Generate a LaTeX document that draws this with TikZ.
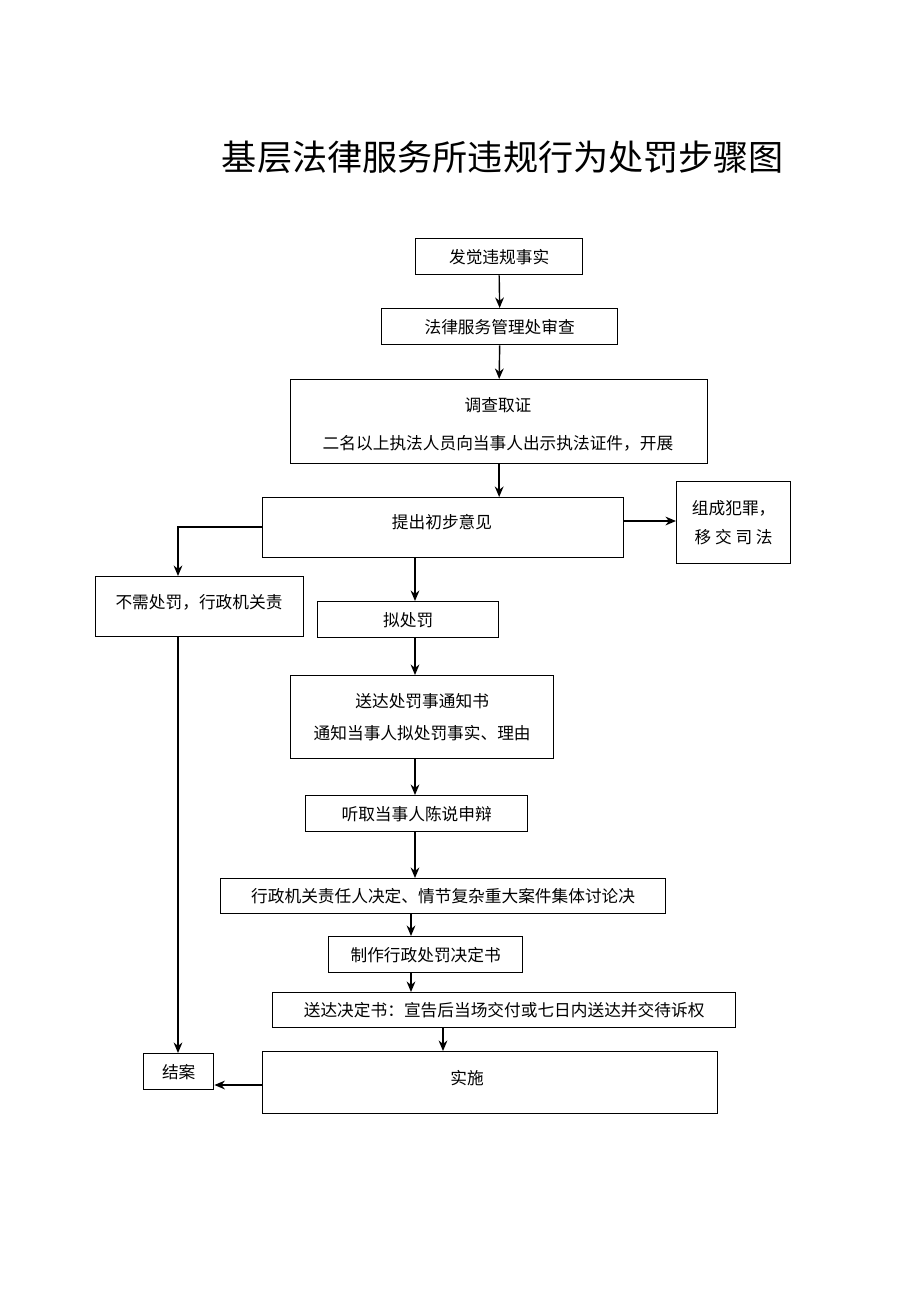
\documentclass[tikz,border=0pt]{standalone}
\usepackage{fontspec}
\setmainfont{Noto Sans CJK SC}
\usetikzlibrary{arrows.meta}
\begin{document}
\begin{tikzpicture}[x=0.02cm,y=-0.02cm,font=\fontsize{9.5pt}{12pt}\selectfont]
\tikzset{
	step box/.style={draw,thick,inner sep=0pt,anchor=north west},
	flow/.style={draw,thick,-{Stealth[length=6pt,width=5pt]}}
}
\useasboundingbox (0,0) rectangle (920,1302);
\node (title) at (503,157) {\fontsize{20pt}{24pt}\selectfont 基层法律服务所违规行为处罚步骤图};
% boxes
\node[step box,minimum width=3.34cm,minimum height=0.72cm] (find) at (415,238) {发觉违规事实};
\node[step box,minimum width=4.72cm,minimum height=0.72cm] (check) at (381,308) {法律服务管理处审查};
\node[step box,minimum width=8.34cm,minimum height=1.68cm] (probe) at (290,379) {};
\node at (498,405) {调查取证};
\node at (498,443) {二名以上执法人员向当事人出示执法证件，开展};
\node[step box,minimum width=7.22cm,minimum height=1.2cm] (opinion) at (262,497) {};
\node at (442,522) {提出初步意见};
\node[step box,minimum width=2.28cm,minimum height=1.64cm,align=center] (crime) at (676,481) {组成犯罪，\\[4pt]移 交 司 法};
\node[step box,minimum width=4.16cm,minimum height=1.2cm] (nopunish) at (95,576) {};
\node at (199,602) {不需处罚，行政机关责};
\node[step box,minimum width=3.62cm,minimum height=0.72cm] (plan) at (317,601) {拟处罚};
\node[step box,minimum width=5.26cm,minimum height=1.66cm,align=center] (notice) at (290,675) {送达处罚事通知书\\[6pt]通知当事人拟处罚事实、理由};
\node[step box,minimum width=4.44cm,minimum height=0.72cm] (hear) at (305,795) {听取当事人陈说申辩};
\node[step box,minimum width=8.9cm,minimum height=0.7cm] (decide) at (220,878) {行政机关责任人决定、情节复杂重大案件集体讨论决};
\node[step box,minimum width=3.88cm,minimum height=0.72cm] (write) at (328,936) {制作行政处罚决定书};
\node[step box,minimum width=9.26cm,minimum height=0.7cm] (deliver) at (272,992) {送达决定书：宣告后当场交付或七日内送达并交待诉权};
\node[step box,minimum width=1.4cm,minimum height=0.72cm] (close) at (143,1053) {结案};
\node[step box,minimum width=9.1cm,minimum height=1.24cm] (exec) at (262,1051) {};
\node at (467,1078) {实施};
% connectors
\draw[flow] (find.south) -- (check.north);
\draw[flow] (check.south) -- (probe.north);
\draw[flow] (probe.south) -- (opinion.north -| probe.south);
\draw[flow] (623,521) -- (crime.west |- 0,521);
\draw[flow] (opinion.west |- 0,527) -| (178,576);
\draw[flow] (opinion.south -| 415,0) -- (plan.north -| 415,0);
\draw[flow] (plan.south -| 415,0) -- (notice.north -| 415,0);
\draw[flow] (notice.south -| 415,0) -- (hear.north -| 415,0);
\draw[flow] (hear.south -| 415,0) -- (decide.north -| 415,0);
\draw[flow] (decide.south -| 411,0) -- (write.north -| 411,0);
\draw[flow] (write.south -| 411,0) -- (deliver.north -| 411,0);
\draw[flow] (deliver.south -| 443,0) -- (exec.north -| 443,0);
\draw[flow] (nopunish.south -| 178,0) -- (close.north -| 178,0);
\draw[flow] (exec.west |- 0,1085) -- (close.east |- 0,1085);
\end{tikzpicture}
\end{document}
